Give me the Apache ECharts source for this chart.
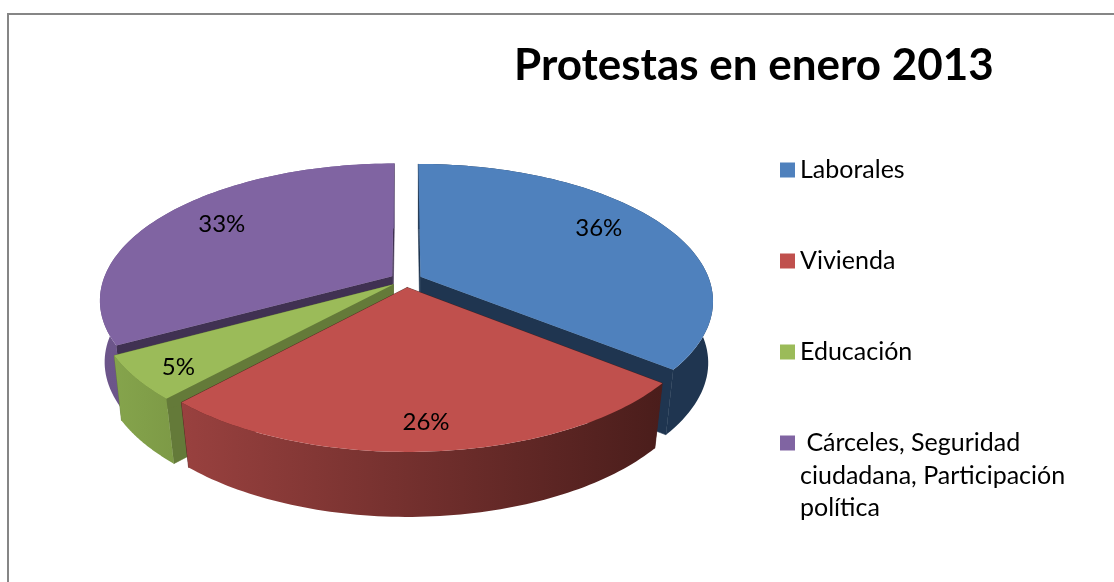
<!DOCTYPE html>
<html>
<head>
<meta charset="utf-8">
<style>html,body{margin:0;padding:0;background:#fff}#c{width:1114px;height:582px}</style>
<script src="https://cdn.jsdelivr.net/npm/echarts@6/dist/echarts.min.js"></script>
</head>
<body>
<div id="c"></div>
<script>
var categories = ['Laborales', 'Vivienda', 'Educación', ' Cárceles, Seguridad\nciudadana, Participación\npolítica'];
var values = [35.8, 26.0, 5.2, 33.0];
var titleText = 'Protestas en enero 2013';

var topColors = ['#4f81bd', '#c0504d', '#9bbb59', '#8064a2'];
var wallStops = [
  ['#1f3550', '#1f3550'],
  ['#99413f', '#4a1d1b'],
  ['#85a44c', '#7d9a46'],
  ['#6c558a', '#705a90']
];
var cutColors = ['#1f3550', '#4a1d1b', '#647a39', '#403152'];
var labelRadial = [0.8, 0.84, 0.85, 0.75];
var labelNudge = [[-17, -5], [-3, 2], [0, 5], [3, -5]];
var paintOrder = [3, 0, 2, 1];
var legendCentres = [170, 261, 352, 443];

var view = { cx: 406, cy: 280, R: 289, Rs: 133.3, k: 0.172, explode: 0.0556, depth: 65 };
var total = values.reduce(function (a, b) { return a + b; }, 0);

function sliceAngles(i) {
  var before = 0;
  for (var j = 0; j < i; j++) before += values[j];
  var a0 = before / total * 2 * Math.PI;
  var a1 = (before + values[i]) / total * 2 * Math.PI;
  return [a0, a1, (a0 + a1) / 2];
}
function point(i, theta, r, drop) {
  var mid = sliceAngles(i)[2];
  var u = r * Math.sin(theta) + view.explode * Math.sin(mid);
  var v = -r * Math.cos(theta) - view.explode * Math.cos(mid);
  var w = 1 - view.k * v;
  var shrink = Math.max(0, 0.012 + 0.025 * v);
  return [
    view.cx + view.R * u / w * (1 - shrink * drop),
    view.cy + view.Rs * v / w + view.depth * drop
  ];
}
function arc(i, a0, a1, drop) {
  var pts = [], n = 80;
  for (var s = 0; s <= n; s++) pts.push(point(i, a0 + (a1 - a0) * s / n, 1, drop));
  return pts;
}
function renderSlice(i) {
  return function () {
    var a = sliceAngles(i), children = [];
    var top = arc(i, a[0], a[1], 0);
    var bottom = arc(i, a[0], a[1], 1).reverse();
    var c0 = point(i, 0, 0, 0), c1 = point(i, 0, 0, 1);
    // straight cut faces at both ends of the slice
    [a[0], a[1]].forEach(function (t) {
      children.push({ type: 'polygon', shape: { points: [c0, c1, point(i, t, 1, 1), point(i, t, 1, 0)] },
        style: { fill: cutColors[i], stroke: cutColors[i], lineWidth: 0.6 } });
    });
    // curved outer wall
    children.push({ type: 'polygon', shape: { points: top.concat(bottom) },
      style: { fill: new echarts.graphic.LinearGradient(0, 0, 1, 0, [
        { offset: 0, color: wallStops[i][0] }, { offset: 1, color: wallStops[i][1] }
      ]) } });
    // top face
    children.push({ type: 'polygon', shape: { points: [c0].concat(top) }, style: { fill: topColors[i] } });
    var lp = point(i, a[2], labelRadial[i], 0);
    children.push({ type: 'text', z2: 10, style: {
      x: lp[0] + labelNudge[i][0], y: lp[1] + labelNudge[i][1], text: Math.round(values[i]) + '%',
      align: 'center', verticalAlign: 'middle', fill: '#000', font: '24px Lato'
    } });
    return { type: 'group', children: children };
  };
}

var series = paintOrder.map(function (i) {
  return {
    type: 'custom', name: categories[i], coordinateSystem: 'none',
    data: [values[i]], renderItem: renderSlice(i), silent: true, animation: false,
    itemStyle: { color: topColors[i] }, clip: false
  };
});

var legends = categories.map(function (name, i) {
  var extra = name.split('\n').length - 1;
  var lh = 32.5;
  return {
    data: [{ name: name, icon: 'rect' }], orient: 'vertical', left: 780, selectedMode: false, padding: 0,
    top: legendCentres[i] - lh * (extra + 0.5),
    itemWidth: 15, itemHeight: 15, itemGap: 0,
    formatter: function (n) { return new Array(extra + 1).join('\n') + n; },
    textStyle: { fontFamily: 'Lato', fontSize: 25, color: '#000', lineHeight: lh }
  };
});

var chart = echarts.init(document.getElementById('c'), null, { renderer: 'canvas' });
chart.setOption({
  backgroundColor: '#fff',
  animation: false,
  title: { text: titleText, left: 514, top: 44, padding: 0,
    textStyle: { fontFamily: 'Lato', fontWeight: 'bold', fontSize: 44, color: '#000' } },
  legend: legends,
  series: series,
  graphic: [
    { type: 'polyline', silent: true, shape: { points: [[8, 582], [8, 14], [1114, 14]] },
      style: { stroke: '#868686', lineWidth: 2, fill: null } }
  ]
});
</script>
</body>
</html>
